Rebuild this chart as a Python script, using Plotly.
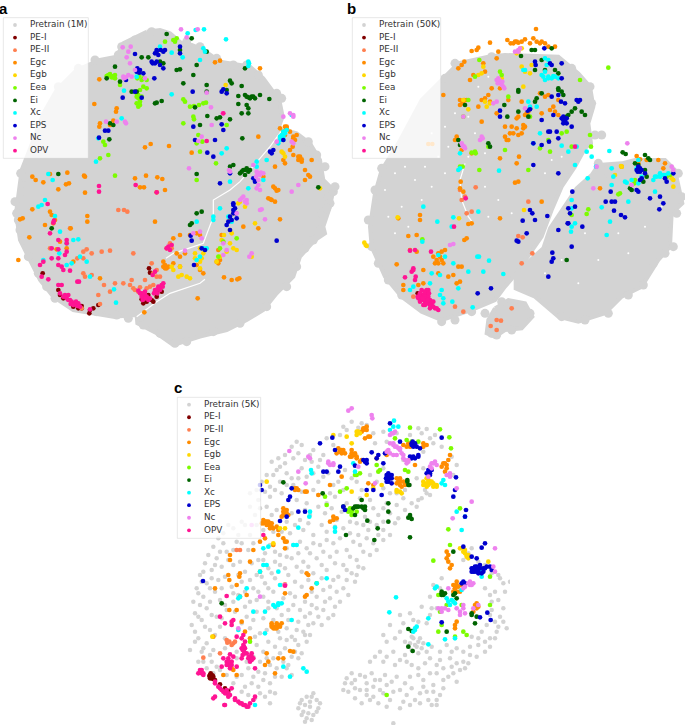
import plotly.graph_objects as go

W, H = 685, 727
NAMES = ["PE-I", "PE-II", "Egc", "Egb", "Eea", "Ei", "Xc", "EPS", "Nc", "OPV"]
COLORS = ["#800000", "#FF7F50", "#FF8C00", "#FFD700", "#7CFC00", "#006400", "#00FFFF", "#0000CD", "#EE82EE", "#FF1493"]
GREY = "#D3D3D3"

# ---------- panel a: values ----------
A_OUTLINE = [(440,95),(480,90),(510,100),(545,130),(575,135),(600,145),(625,160),(660,185),(720,195),(750,200),(790,235),(815,270),(838,300),(848,350),(835,385),(890,400),(930,430),(960,480),(970,540),(1000,570),(990,620),(970,680),(975,700),(945,720),(900,770),(880,830),(830,880),(790,930),(740,960),(680,990),(600,1010),(520,1035),(470,1000),(412,970),(410,945),(340,950),(280,940),(220,930),(160,890),(120,840),(90,780),(60,720),(48,640),(60,540),(65,510),(100,420),(130,340),(170,270),(230,210),(300,180),(350,170),(370,130)]
A_CRACK_1 = [(885,345),(850,385),(810,440),(775,480),(745,515),(720,545),(690,570),(640,600),(640,650),(622,695),(610,730),(565,745),(520,760),(498,775)]
A_CRACK_2 = [(410,950),(470,905),(510,880),(600,850),(615,838)]
A_EDGE = [(985,590),(1000,575),(990,610),(960,690),(955,700),(965,640),(940,720),(915,745),(890,800),(860,860),(800,920),(720,970),(640,995),(560,1025),(525,1030),(480,1000),(430,975),(385,955),(350,945),(325,930),(290,935),(165,895),(140,860),(115,820),(85,770),(70,720),(60,690),(55,660),(50,640),(45,605),(65,575),(75,530),(62,520),(845,295),(830,280),(775,225),(740,195),(700,195),(650,175),(600,140),(560,125),(455,95),(405,120),(365,140),(355,165),(285,180),(235,205),(175,260),(925,425),(950,465),(975,500),(1005,560),(980,625)]
A_PE1 = [(175,870),(180,885),(190,895),(220,920),(235,925),(245,918),(270,930),(268,940),(280,925),(295,915),(447,805),(450,818),(430,895),(440,905),(455,900),(430,910),(445,885),(470,890),(485,875),(128,820),(470,875),(245,925),(425,898),(460,905)]
A_PE2 = [(355,630),(372,630),(382,635),(260,748),(232,775),(250,775),(275,760),(305,755),(330,752),(400,760),(250,820),(255,830),(275,825),(312,855),(295,885),(330,875),(345,850),(370,850),(395,840),(390,855),(405,870),(415,875),(400,865),(455,790),(460,820),(470,830),(480,830),(435,840),(250,755),(245,925),(300,912),(460,855),(210,685),(150,745),(510,730),(500,745),(515,745),(420,862),(440,865),(450,860),(470,810)]
A_EGC = [(298,238),(350,325),(348,335),(283,312),(300,370),(298,380),(340,362),(330,375),(435,442),(452,432),(507,438),(575,458),(660,182),(645,187),(780,205),(775,410),(97,530),(107,540),(130,547),(150,522),(202,518),(252,527),(255,530),(175,568),(198,553),(207,550),(255,578),(405,535),(438,527),(472,532),(487,537),(420,562),(432,562),(470,577),(495,570),(97,628),(60,658),(68,655),(150,635),(155,645),(165,660),(160,670),(262,648),(262,665),(88,712),(135,675),(212,685),(55,780),(180,725),(465,665),(495,795),(490,800),(505,800),(520,790),(540,800),(860,380),(850,395),(880,410),(885,420),(870,450),(880,465),(900,470),(905,485),(850,480),(855,490),(935,480),(915,510),(925,525),(915,540),(825,500),(790,530),(825,565),(835,570),(805,595),(815,600),(825,605),(840,658),(775,685),(730,680),(672,832),(695,840),(712,838),(718,835),(593,895),(433,937),(590,700),(600,705),(570,705),(540,705),(520,715),(590,795),(610,820),(600,810),(540,770),(530,760),(555,760),(495,805),(490,785),(650,785),(660,780),(655,790),(870,395),(855,405),(878,440),(895,480),(930,530),(890,405),(665,705),(655,750),(170,748),(200,745),(220,785),(300,835),(820,560),(830,572),(812,598),(855,380),(860,385),(880,415),(895,470),(905,478),(500,805),(840,385)]
A_EGB = [(720,605),(735,620),(700,640),(690,660),(695,700),(672,705),(665,720),(690,730),(700,745),(710,750),(680,755),(660,770),(650,785),(765,670),(755,770),(850,460),(855,470),(845,455),(690,690),(600,745),(610,760),(585,760),(585,775),(600,785),(540,800),(545,825),(535,830),(560,830),(570,835),(515,800),(520,810),(960,565),(677,255),(600,805),(605,775),(715,610)]
A_EEA = [(320,228),(330,222),(340,232),(345,225),(335,228),(405,275),(415,295),(425,290),(410,310),(420,315),(430,260),(440,265),(412,235),(440,240),(520,120),(530,115),(525,125),(495,125),(550,298),(555,305),(570,320),(582,318),(597,315),(610,310),(618,308),(580,350),(582,358),(550,370),(595,405),(607,425),(590,430),(648,490),(590,540),(345,527),(310,425),(315,435),(325,465),(300,475),(360,255),(680,375),(660,745),(655,770),(670,725),(710,715),(600,455),(418,228),(430,235),(425,240),(410,280),(420,270),(325,225),(335,232),(345,235),(415,285),(410,290),(420,305),(415,320)]
A_EI = [(500,102),(575,115),(540,150),(620,155),(590,195),(425,172),(445,172),(480,185),(490,190),(530,210),(540,208),(580,225),(550,250),(620,255),(620,275),(690,242),(695,250),(680,270),(735,205),(725,258),(715,288),(735,285),(745,292),(755,290),(765,295),(780,285),(808,297),(715,312),(740,315),(745,325),(725,340),(745,340),(650,355),(660,352),(690,358),(727,415),(622,348),(585,322),(485,303),(470,308),(465,310),(320,235),(360,245),(345,200),(395,275),(410,275),(330,370),(340,375),(328,418),(175,522),(155,685),(690,500),(700,495),(720,520),(730,510),(740,505),(750,510),(735,525),(590,522),(570,675),(575,670),(605,635),(590,640),(955,562),(600,375),(740,290),(750,295),(760,290),(735,510),(745,515),(725,515)]
A_XC = [(678,118),(610,145),(615,155),(563,100),(587,90),(612,88),(747,190),(745,198),(600,180),(515,158),(548,172),(480,140),(410,230),(372,272),(515,283),(365,355),(295,415),(288,485),(145,522),(158,540),(125,615),(115,620),(135,600),(165,648),(180,695),(220,720),(235,718),(200,795),(215,790),(240,770),(260,785),(270,830),(200,730),(178,760),(130,780),(342,868),(348,908),(590,665),(640,650),(640,660),(850,395),(840,410),(850,420),(860,390),(835,430),(875,345),(770,485),(770,500),(800,480),(790,540),(745,565),(690,545),(680,445),(665,460),(600,770),(590,780),(620,745),(610,745),(695,665),(685,650),(660,625),(745,185),(845,405),(855,400),(840,420),(850,410)]
A_EPS = [(470,150),(475,165),(465,160),(490,155),(455,185),(465,190),(480,195),(490,205),(540,140),(540,160),(405,162),(420,210),(410,215),(430,220),(378,240),(405,275),(425,293),(368,293),(315,392),(325,392),(297,413),(463,235),(578,275),(580,380),(665,275),(670,268),(680,280),(665,373),(670,390),(645,420),(622,458),(640,470),(585,420),(820,450),(815,460),(850,420),(660,550),(690,520),(700,610),(705,625),(700,640),(710,655),(690,650),(685,665),(680,675),(690,690),(830,722),(605,745),(615,750),(582,795),(572,707),(575,722),(760,535),(765,545),(810,455),(458,190),(470,185),(482,150),(495,150),(470,155),(412,205),(418,218),(700,630),(695,660),(700,615),(708,640)]
A_NC = [(543,88),(593,88),(560,112),(368,142),(385,155),(380,172),(392,140),(390,190),(370,230),(385,225),(395,230),(405,210),(435,235),(620,278),(633,322),(668,340),(635,375),(350,365),(375,365),(378,370),(318,365),(850,350),(880,345),(870,340),(880,430),(875,425),(830,425),(760,495),(770,515),(780,525),(790,520),(775,540),(770,565),(780,570),(875,575),(895,555),(780,630),(785,628),(795,658),(730,590),(740,600),(740,610),(720,600),(710,640),(580,700),(600,695),(605,715),(670,730),(680,750),(670,765),(748,770),(755,760),(567,505),(690,515),(687,510),(605,410),(595,423),(555,752),(372,235),(378,232),(773,520),(783,518),(768,530),(775,555),(880,350),(735,605),(725,595)]
A_OPV = [(180,880),(190,890),(205,885),(215,905),(225,910),(235,910),(240,920),(210,900),(220,915),(270,928),(425,880),(435,885),(430,890),(440,890),(445,900),(420,880),(465,870),(475,860),(485,855),(480,870),(490,850),(465,875),(458,825),(465,815),(175,855),(185,855),(232,845),(237,845),(145,838),(125,830),(120,795),(130,785),(175,795),(185,800),(190,810),(155,775),(175,775),(195,765),(200,755),(175,720),(200,720),(200,730),(150,700),(162,662),(160,668),(143,612),(297,558),(297,575),(407,555),(470,577),(620,423),(505,740),(510,750),(500,745),(515,735),(670,340),(155,745),(175,748),(210,812),(435,875),(428,900),(200,895),(212,912),(228,905),(232,918),(415,872),(425,890),(432,880),(437,895),(450,895),(472,868),(480,862),(488,860),(462,880),(472,880),(205,900),(195,885)]

# ---------- panel b ----------
B_OUTLINE_MAIN = [(430,170),(480,165),(640,170),(700,220),(735,260),(745,320),(730,370),(738,430),(720,445),(690,500),(650,560),(620,630),(590,710),(550,765),(510,825),(480,860),(450,900),(380,930),(290,960),(230,935),(170,890),(120,830),(80,740),(75,680),(90,580),(110,510),(160,430),(230,300),(290,240),(340,190)]
B_OUTLINE_RIGHT = [(760,495),(830,490),(870,480),(960,480),(990,510),(1010,590),(1012,610),(980,640),(975,740),(940,780),(890,860),(830,890),(780,940),(700,965),(640,950),(570,890),(512,865),(512,835),(545,790),(595,745),(615,685),(655,625),(695,565),(740,525)]
B_OUTLINE_LOW = [(450,925),(490,900),(540,910),(562,950),(530,985),(480,990),(450,1010),(425,1000),(430,960)]
B_CRACK = [(360,490),(345,540),(350,600),(370,650),(385,670)]
B_GAPS = [(120,570),(150,520),(180,500),(210,540),(240,500),(280,470),(310,440),(300,520),(260,560),(230,600),(170,620),(130,650),(150,700),(190,680),(420,560),(460,600),(500,640),(430,650),(560,500),(600,520),(620,480),(650,470),(420,460),(370,470),(300,380),(260,400),(330,340),(400,260),(430,230),(370,350),(390,400),(820,700),(760,780),(650,780),(900,680),(700,850),(850,760),(600,820),(720,700),(950,620)]
B_EDGE = [(70,660),(90,570),(110,505),(80,740),(100,790),(130,840),(170,885),(290,965),(330,960),(380,935),(420,940),(440,1000),(455,1005),(500,990),(555,940),(985,740),(960,760),(925,790),(895,855),(850,885),(790,940),(720,960),(650,950),(995,640),(1010,590),(1000,520),(735,260),(740,310),(750,405),(770,405),(760,490),(790,520),(330,190),(300,235),(440,170),(680,205),(450,1000),(470,905)]
B_PE1 = [(218,880),(228,885)]
B_PE2 = [(550,605),(533,712),(520,708),(530,790),(562,760),(500,925),(455,960),(468,962),(437,978),(455,990),(355,935),(330,920),(360,590),(350,600),(380,635),(392,562),(205,890),(345,570),(365,640)]
B_EGC = [(573,87),(487,120),(497,130),(510,125),(520,128),(530,125),(540,118),(565,115),(575,125),(585,130),(600,130),(610,140),(630,140),(435,128),(400,143),(395,150),(380,153),(460,155),(455,175),(358,185),(350,195),(340,205),(415,190),(420,215),(385,225),(375,240),(295,285),(345,300),(355,310),(365,300),(345,315),(430,285),(420,295),(435,305),(410,300),(465,265),(440,265),(490,300),(520,350),(515,355),(600,290),(615,330),(630,335),(640,345),(625,320),(590,340),(550,335),(480,410),(485,420),(495,400),(515,385),(530,400),(535,385),(540,380),(520,405),(410,365),(330,420),(335,410),(350,450),(380,460),(465,475),(522,470),(515,490),(510,548),(520,545),(347,545),(345,565),(355,575),(380,670),(370,672),(365,715),(358,720),(465,655),(590,605),(225,645),(225,660),(190,708),(215,705),(160,655),(195,750),(215,755),(155,793),(300,750),(290,755),(280,760),(265,770),(270,790),(295,790),(290,780),(350,800),(340,800),(325,825),(335,850),(310,830),(280,820),(235,810),(220,855),(175,855),(175,870),(235,850),(345,845),(540,345),(545,340),(530,305),(250,432),(262,432),(400,320),(610,285),(830,500),(875,468),(885,478),(905,480),(960,490),(940,480),(955,505),(765,565),(880,490),(505,130),(555,130),(480,380),(500,380),(490,420),(505,400),(455,340),(535,375),(640,300),(585,280),(352,305),(358,300),(285,770),(275,780),(280,790),(515,125),(590,125)]
B_EGB = [(410,220),(400,225),(415,200),(420,305),(435,310),(425,320),(370,328),(355,300),(465,240),(520,155),(515,160),(530,145),(540,215),(535,260),(555,220),(560,195),(158,652),(62,735),(58,728),(65,738),(537,630),(342,655),(828,498),(830,500),(985,560),(980,535),(985,540),(860,555),(470,235),(530,200),(810,525)]
B_EEA = [(790,203),(403,180),(465,215),(470,225),(390,230),(370,300),(355,350),(403,510),(390,455),(380,458),(392,460),(345,500),(353,500),(550,510),(735,405),(738,440),(615,455),(585,445),(610,420),(650,400),(665,395),(705,240),(680,440),(730,628),(725,642),(820,583),(825,580),(870,540),(868,550),(965,530),(975,525),(232,718),(680,645),(480,450),(555,350),(430,440),(490,290)]
B_EI = [(560,150),(570,150),(620,145),(528,168),(590,180),(570,210),(640,220),(640,270),(650,275),(655,285),(520,270),(520,275),(575,295),(570,305),(590,280),(520,335),(478,315),(487,350),(555,325),(550,350),(680,335),(690,325),(670,345),(720,345),(710,335),(665,350),(430,430),(435,440),(340,420),(345,435),(360,315),(665,780),(833,457),(842,462),(900,465),(910,475),(880,495),(900,510),(905,530),(895,545),(870,490),(915,480),(855,565),(860,570),(640,265),(630,210),(600,210)]
B_XC = [(235,620),(277,665),(325,652),(320,680),(232,725),(280,765),(300,770),(325,790),(260,820),(285,825),(255,850),(290,870),(285,885),(295,895),(205,860),(195,870),(295,910),(322,905),(340,865),(370,815),(397,770),(402,770),(432,782),(415,815),(475,822),(383,922),(400,635),(462,512),(340,510),(345,505),(345,460),(610,180),(600,175),(605,195),(600,215),(610,230),(620,235),(630,230),(590,225),(600,240),(640,235),(540,210),(535,210),(550,305),(575,320),(555,320),(585,400),(565,430),(650,437),(670,455),(695,440),(725,455),(740,470),(690,495),(728,535),(753,500),(793,453),(800,505),(805,530),(840,545),(845,548),(860,540),(800,555),(880,550),(925,540),(930,530),(945,520),(960,525),(970,520),(930,575),(770,622),(795,665),(785,705),(680,600),(680,625),(680,680),(690,670),(678,695),(850,605),(890,530),(880,480),(875,505),(610,235),(595,230),(625,228),(945,530),(955,525),(935,530)]
B_EPS = [(598,145),(650,190),(570,185),(572,195),(615,190),(620,195),(650,235),(555,328),(548,332),(465,332),(465,350),(620,290),(640,285),(648,305),(660,310),(695,300),(705,300),(700,305),(625,345),(590,360),(655,350),(660,360),(650,355),(665,370),(680,380),(655,370),(610,395),(615,395),(635,395),(640,415),(612,425),(590,435),(565,430),(565,495),(640,520),(682,575),(670,625),(675,640),(690,620),(555,630),(562,640),(570,660),(533,662),(607,648),(545,700),(515,722),(520,725),(668,670),(640,690),(680,740),(622,758),(625,775),(620,785),(610,830),(438,865),(398,880),(712,680),(880,500),(875,510),(885,515),(890,535),(885,540),(900,520),(875,570),(880,575),(915,595),(945,590),(943,628),(955,610),(960,535),(965,545),(985,520),(797,575),(782,605),(800,605),(810,605),(807,632),(828,645),(840,652),(670,670),(880,505),(885,505),(878,515),(890,510),(655,360),(660,365),(665,355)]
B_NC = [(510,155),(520,150),(525,145),(460,235),(465,245),(470,255),(475,260),(455,305),(445,310),(455,240),(413,415),(405,420),(410,410),(350,430),(355,440),(360,445),(355,350),(847,430),(745,565),(755,500),(315,735),(325,732),(980,500),(985,510),(540,325),(860,555),(462,240),(468,250),(472,245),(458,250),(478,265),(352,435),(358,440),(520,155)]
B_OPV = [(220,895),(230,900),(240,905),(245,895),(235,885),(250,870),(245,880),(260,915),(270,925),(255,925),(280,930),(240,915),(265,905),(225,880),(230,870),(245,870),(225,905),(235,915),(250,910),(255,900),(205,810),(200,815),(210,840),(212,830),(180,832),(195,752),(210,750),(327,680),(362,595),(258,755),(690,440),(205,805),(235,900),(245,910),(240,890),(250,890),(255,915),(265,920),(275,925),(225,890),(238,875),(252,880),(232,895),(248,900),(260,905),(218,890)]

# ---------- panel c ----------
C_GREY = [
(545,140),(520,155),(565,158),(590,150),(745,160),(770,162),(795,180),
(380,200),(395,210),(510,180),(470,190),(610,175),(640,170),(680,175),(720,180),(790,205),(815,215),
(365,215),(325,250),(345,265),(370,250),(385,235),(430,225),(460,240),(490,210),(615,205),(650,200),(760,230),(845,245),(860,270),
(305,260),(330,275),(310,300),(350,295),(395,280),(425,260),(445,275),(475,295),(525,285),(590,260),(640,280),(700,255),(760,280),(850,300),
(275,320),(300,335),(330,320),(370,330),(410,305),(445,320),(490,330),(520,345),(560,320),(600,300),(640,340),(680,355),(720,330),(765,345),(790,330),
(240,355),(265,375),(300,365),(335,355),(380,375),(410,385),(445,360),(470,385),(495,365),(570,370),(600,375),(650,385),(700,370),(745,375),(770,355),
(290,395),(255,420),(215,440),(320,405),(350,440),(390,435),(420,420),(465,415),(500,435),(540,440),(585,425),(625,420),(660,415),(705,405),(740,395),
(160,475),(190,460),(130,515),(160,505),(240,480),(280,465),(310,470),(360,475),(400,465),(430,480),(470,470),(520,460),(565,480),(595,465),(640,465),(675,445),
(105,565),(140,550),(170,530),(200,500),(235,525),(265,555),(300,510),(330,540),(370,510),(410,520),(450,510),(490,505),(530,525),(570,510),(610,505),(640,495),
(90,600),(125,585),(155,575),(190,570),(225,590),(260,600),(295,580),(330,570),(365,550),(400,560),(440,550),(480,545),(520,570),(560,555),(600,540),
(80,640),(110,625),(145,615),(185,635),(215,620),(250,640),(285,625),(315,610),(355,600),(395,590),(430,595),(470,585),(505,605),(545,595),(580,580),
(70,680),(100,665),(135,650),(165,690),(205,660),(240,680),(280,665),(310,650),(360,655),(395,635),(440,625),(480,635),(520,640),(555,620),
(75,715),(110,700),(140,725),(170,705),(230,725),(260,710),(295,700),(335,720),(370,690),(405,680),(440,665),(480,670),(510,680),
(65,750),(95,735),(120,765),(150,755),(240,760),(270,775),(310,735),(350,760),(385,740),(420,715),(460,705),(490,720),
(60,825),(85,790),(110,805),(130,825),(260,810),(295,800),(330,790),(365,785),(400,770),(430,745),(455,750),
(95,830),(85,860),(125,860),(150,885),(200,850),(235,880),(270,860),(310,850),(345,820),(385,810),(410,800),
(110,880),(215,900),(250,905),(285,895),(320,880),(355,870),(385,850),(395,835),
(190,925),(225,935),(265,935),(300,925),(335,905),(365,900),
(215,950),(255,970),(285,965),(315,955),(300,985),
(430,955),(410,965),(395,975),(440,975),(385,1000),(400,1010),(420,995),(430,1020),(410,1030),(440,1010),(415,1015),(395,1020),(450,985),(670,1045),
(880,555),(905,520),(945,570),(985,600),(1000,625),(975,650),(945,640),
(815,610),(790,630),(965,680),(1000,740),(985,755),(960,720),(1000,700),
(720,715),(755,695),(780,720),(745,740),(700,745),(960,790),(935,770),(905,785),
(660,750),(690,770),(725,785),(745,800),(735,810),(760,805),(750,790),(720,805),(650,800),(670,830),(705,840),(785,815),(830,810),(860,820),(900,815),(945,830),(925,810),(975,790),(960,815),
(630,830),(600,860),(640,860),(675,870),(710,860),(745,880),(780,850),(800,870),(840,850),(880,860),(900,840),(870,885),
(545,895),(525,925),(570,900),(605,895),(645,900),(680,905),(720,905),(760,915),(800,895),(835,905),(860,920),(820,940),
(535,950),(570,945),(610,935),(650,930),(690,945),(725,940),(770,950),(800,975),(785,990),(810,960),
(555,970),(600,975),(625,985),(660,975),(700,980),(735,975),(640,955),(590,960),(520,945),(545,925),(590,925),(615,915),
(530,165),(575,145),(755,175),(780,190),(420,240),(405,255),(450,255),(345,240),(320,285),(290,300),(365,310),(385,310),(430,295),(460,305),(505,320),(545,310),(575,345),(620,320),(660,355),(705,345),(740,310),(780,360),
(260,345),(285,350),(315,345),(350,330),(395,350),(430,345),(480,355),(530,385),(555,395),(610,400),(640,400),(680,390),(725,385),(755,370),
(240,395),(270,400),(305,420),(365,415),(405,405),(445,395),(485,400),(515,410),(560,445),(600,440),(640,440),(685,430),
(175,450),(205,480),(145,490),(225,450),(260,450),(335,470),(375,450),(415,445),(455,450),(495,455),(540,475),(580,450),(620,450),(660,480),
(115,540),(150,530),(190,525),(215,505),(250,505),(285,535),(315,530),(350,520),(390,500),(430,505),(470,495),(510,490),(550,500),(590,490),(625,480),
(100,590),(135,570),(175,555),(210,560),(245,565),(280,555),(315,560),(350,545),(385,535),(420,535),(460,530),(500,530),(540,545),(580,530),(620,525),
(95,620),(125,610),(165,605),(205,600),(240,615),(275,605),(305,595),(345,580),(380,575),(415,575),(455,570),(495,565),(530,585),(565,575),
(85,655),(120,640),(155,640),(190,655),(225,650),(265,650),(295,640),(335,630),(375,620),(415,615),(455,610),(490,615),(530,615),(560,600),
(90,690),(120,680),(150,675),(190,680),(225,695),(260,675),(295,680),(340,670),(375,665),(425,650),(460,645),(500,650),(535,660),
(85,725),(125,720),(155,730),(195,710),(215,745),(250,735),(280,730),(320,700),(355,705),(390,705),(425,690),(465,680),(495,695),
(75,770),(105,755),(135,780),(165,790),(255,785),(290,765),(325,770),(355,735),(405,725),(440,700),(475,730),
(75,800),(100,820),(120,840),(165,820),(280,830),(315,815),(350,795),(380,765),(415,750),(445,725),(375,795),
(100,860),(140,875),(200,830),(250,845),(290,850),(330,835),(365,845),(405,780),(420,780),
(130,895),(230,860),(265,890),(300,870),(340,860),(375,830),(200,905),(170,900),
(245,925),(280,915),(315,905),(350,880),(235,960),(270,955),(300,950),
(420,980),(405,990),(425,965),(445,1000),(390,985),(405,1040),(425,1035),
(895,535),(925,560),(965,595),(990,610),(1005,650),(985,675),(960,660),(1020,620),
(810,640),(780,665),(965,705),(990,725),(1010,760),(950,750),(975,740),
(730,735),(770,745),(800,700),(785,700),(690,720),(925,790),(945,800),(980,770),
(640,780),(675,790),(705,800),(730,790),(740,815),(755,820),(725,825),(745,835),(770,830),(810,830),(845,830),(880,830),(920,845),
(615,845),(650,845),(690,855),(725,870),(765,865),(810,855),(860,865),(895,865),(885,880),(845,875),(820,880),
(530,910),(555,915),(585,905),(630,915),(665,920),(705,925),(745,900),(780,895),(820,915),(850,895),(790,930),(760,935),
(555,940),(590,945),(630,945),(670,950),(710,960),(750,955),(790,950),(800,990),(775,975),(750,985),
(575,985),(610,965),(650,995),(690,1000),(720,990)]
C_PE1 = [(120,900),(125,905),(130,912),(135,915),(120,910),(150,928),(165,940),(175,948),(122,895),(128,902),(125,900),(130,905),(118,903),(125,910)]
C_PE2 = [(170,795),(178,800),(190,805),(195,800),(185,810),(150,835),(100,848),(210,525),(200,525),(345,628),(172,803)]
C_EGC = [(585,160),(575,170),(595,185),(585,190),(520,225),(510,230),(500,235),(545,235),(555,240),(560,250),(570,260),(690,320),(680,325),(695,335),(830,270),(825,290),(815,275),(840,240),(835,255),(760,215),(700,210),(720,215),(345,410),(340,420),(335,425),(350,405),(375,345),(380,340),(405,350),(290,440),(295,450),(305,455),(280,445),(310,460),(320,455),(345,500),(350,500),(180,540),(180,555),(210,595),(208,605),(178,615),(175,600),(200,630),(135,640),(210,665),(200,705),(230,660),(340,490),(325,480),(310,510),(345,520),(415,600),(410,595),(425,640),(405,665),(410,660),(345,655),(270,590),(305,750),(315,755),(325,750),(310,760),(335,745),(225,770),(215,740),(240,790),(290,835),(285,870),(325,850),(340,850),(315,895),(370,830),(360,828),(200,900),(190,885),(160,900),(185,880),(490,435),(480,440),(480,330),(445,360),(410,350),(515,305),(860,630),(855,640),(870,650),(915,690),(920,700),(860,740),(855,750),(855,760),(835,540),(835,560),(845,570),(840,580),(830,530),(830,550),(285,490),(270,500),(250,525),(240,560),(178,705),(130,785),(595,325),(620,250),(735,270),(650,240),(610,330),(590,165),(580,165),(550,240),(545,245),(560,245),(510,225),(515,235),(285,440),(290,450),(300,445),(300,460),(315,760),(305,755),(320,760),(345,415),(340,410),(855,640),(860,650),(865,635),(685,320),(690,330),
(505,220),(515,225),(525,235),(545,225),(555,235),(540,245),(575,255),(580,160),(590,155),(600,185),(680,310),(700,320),(690,310),(705,330),(820,265),(830,280),(825,265),(835,300),(760,205),(770,210),(715,205),(710,215),(340,400),(350,415),(355,420),(280,435),(275,445),(295,440),(305,445),(325,465),(850,630),(860,620),(855,655),(850,650),(875,630),(920,685),(925,695),(910,710),(305,745),(320,745),(330,755),(375,340),(385,345),(490,425),(500,430),(295,860)]
C_EGB = [(565,170),(560,180),(530,185),(490,180),(545,205),(780,320),(770,325),(790,335),(760,320),(880,530),(890,540),(895,550),(870,520),(935,580),(955,560),(330,460),(345,460),(690,350),(680,345),(635,330),(610,340),(590,360),(545,350),(127,785),(290,320),(310,505),(770,335),(800,335),(885,535),(890,545),(780,325),(775,330),(770,310),(775,315),(785,320),(760,330),(790,325),(800,330),(880,520),(885,525),(895,540),(560,170),(570,175),(680,350),(695,355)]
C_EEA = [(720,158),(810,163),(838,187),(843,220),(675,190),(725,200),(620,270),(625,290),(715,290),(560,300),(530,340),(510,350),(465,365),(470,390),(540,400),(560,410),(545,420),(530,405),(835,463),(870,400),(790,557),(840,510),(960,690),(650,960),(805,660),(810,710),(805,770),(890,780),(880,770),(960,605),(875,690),(830,690),(240,800),(440,625),(815,750),(855,785),(535,410),(545,410),(555,300),(570,295),(630,285),(705,285),(710,195),(735,205),(745,200)]
C_EI = [(340,322),(458,355),(575,375),(550,400),(560,395),(580,400),(520,395),(585,405),(555,420),(592,437),(655,385),(655,410),(655,440),(720,425),(725,432),(715,428),(613,495),(720,487),(528,480),(623,460),(712,320),(715,330),(850,530),(815,650),(825,655),(850,660),(860,670),(905,720),(920,725),(915,745),(715,762),(725,768),(715,815),(728,828),(830,770),(815,660),(155,685),(555,395),(565,395),(575,395),(585,395),(712,315),(718,330),(720,420),(815,655),(820,660),(855,655),(905,715)]
C_XC = [(672,137),(660,165),(685,155),(670,155),(423,285),(425,295),(555,290),(370,510),(380,510),(420,410),(418,425),(385,458),(495,458),(495,470),(280,520),(295,515),(270,590),(280,570),(290,570),(325,590),(230,640),(330,630),(315,695),(325,690),(335,685),(250,710),(285,710),(365,735),(205,670),(210,665),(205,765),(285,775),(340,875),(400,880),(410,890),(360,905),(255,990),(678,667),(658,712),(775,730),(735,760),(730,770),(740,755),(800,635),(795,640),(830,670),(840,690),(850,680),(875,645),(930,590),(935,605),(775,808),(825,793),(855,790),(470,610),(440,625),(550,265),(815,325),(820,315),(825,330),(875,465),(860,410),(885,425),(835,680),(845,675),(855,685),(325,685),(735,765),(310,690)]
C_EPS = [(660,145),(487,188),(450,205),(495,225),(605,232),(625,240),(620,250),(590,265),(580,255),(585,260),(460,290),(470,290),(510,275),(505,290),(555,272),(650,300),(660,310),(655,320),(665,300),(650,320),(665,325),(735,210),(725,205),(730,215),(720,245),(745,245),(735,250),(750,220),(690,200),(815,188),(780,300),(770,295),(785,285),(858,307),(640,265),(645,235),(610,345),(635,360),(590,345),(520,395),(525,405),(330,438),(360,365),(355,375),(365,340),(270,330),(275,345),(405,410),(385,410),(99,618),(888,405),(885,425),(855,345),(850,365),(880,515),(945,505),(935,518),(920,550),(905,545),(910,580),(920,585),(930,580),(940,590),(950,575),(965,585),(905,590),(935,595),(885,625),(875,625),(880,620),(815,742),(952,713),(962,735),(930,727),(350,425),(910,585),(915,590),(925,590),(915,578),(945,580),(905,580),(725,210),(655,310),(660,300),(730,245),(735,205),(728,200),(740,215),(745,240),(725,250),(655,295),(648,310),(665,310),(920,575),(930,570),(940,580),(960,575),(910,590),(915,575),(925,595),(780,295),(775,285),(590,255)]
C_NC = [(545,100),(535,107),(605,120),(607,130),(358,228),(415,245),(420,250),(385,290),(407,325),(475,265),(480,270),(490,265),(665,175),(675,170),(670,205),(680,215),(690,225),(655,225),(660,235),(700,250),(715,260),(680,240),(795,260),(780,275),(775,305),(785,265),(840,295),(860,340),(905,380),(848,430),(975,520),(245,450),(270,665),(615,325),(970,575),(975,590),(895,625),(910,625),(900,630),(880,640),(835,640),(805,700),(815,710),(835,705),(870,710),(885,715),(860,700),(880,690),(925,690),(910,700),(345,630),(205,760),(565,275),(670,210),(675,215),(685,220),(695,235),(705,255),(710,265),(660,205),(690,220),(700,240),(715,255),(650,230),(670,240),(785,280),(790,265),(800,270),(830,300),(840,305),(885,635),(905,630),(900,620),(880,700),(870,720),(815,700),(825,700),(475,260),(490,270),(670,175),(660,180)]
C_OPV = [(90,885),(95,895),(100,900),(85,895),(135,920),(145,935),(155,945),(165,955),(175,965),(170,945),(185,940),(135,965),(130,970),(165,990),(195,970),(205,980),(220,990),(235,995),(240,985),(250,975),(255,965),(215,985),(170,860),(175,870),(180,880),(185,860),(175,850),(190,845),(180,838),(220,810),(225,820),(222,830),(218,840),(225,800),(240,845),(250,850),(235,850),(245,835),(215,850),(185,740),(190,735),(185,750),(165,745),(150,725),(170,663),(200,785),(215,790),(220,780),(255,880),(160,850),(155,875),(200,875),(163,990),(345,632),(280,480),(90,890),(95,885),(100,895),(135,925),(150,940),(160,950),(170,955),(175,955),(180,960),(195,975),(210,985),(225,990),(230,995),(175,860),(180,870),(185,870),(170,870),(222,815),(218,825),(225,835),(237,845),(245,845),(240,860),(230,835),(215,820),(245,855)]

PANELS = {
    "a": dict(origin=(0, 0), grey="Pretrain (1M)", polys=[A_OUTLINE], cracks=[A_CRACK_1, A_CRACK_2], edge=A_EDGE, dots=[], gaps=[],
              series=[A_PE1, A_PE2, A_EGC, A_EGB, A_EEA, A_EI, A_XC, A_EPS, A_NC, A_OPV],
              box=(10, 53, 265, 475), key_x=45, text_x=90, label=(10, 24)),
    "b": dict(origin=(345, 0), grey="Pretrain (50K)", polys=[B_OUTLINE_MAIN, B_OUTLINE_RIGHT, B_OUTLINE_LOW], cracks=[B_CRACK], edge=B_EDGE, dots=[], gaps=B_GAPS,
              series=[B_PE1, B_PE2, B_EGC, B_EGB, B_EEA, B_EI, B_XC, B_EPS, B_NC, B_OPV],
              box=(22, 53, 287, 475), key_x=57, text_x=102, label=(20, 24)),
    "c": dict(origin=(170, 375), grey="Pretrain (5K)", polys=[], cracks=[], edge=[], dots=C_GREY, gaps=[],
              series=[C_PE1, C_PE2, C_EGC, C_EGB, C_EEA, C_EI, C_XC, C_EPS, C_NC, C_OPV],
              box=(22, 67, 272, 490), key_x=57, text_x=102, label=(23, 37)),
}

fig = go.Figure()
layout = {}
for i, (tag, p) in enumerate(PANELS.items()):
    sfx = "" if i == 0 else str(i + 1)
    xa, ya = "x" + sfx, "y" + sfx
    ox, oy = p["origin"]
    layout["xaxis" + sfx] = dict(domain=[ox / W, (ox + 340) / W], range=[0, 1020], visible=False, anchor=ya, fixedrange=True)
    layout["yaxis" + sfx] = dict(domain=[1 - (oy + 350) / H, 1 - oy / H], range=[1050, 0], visible=False, anchor=xa, fixedrange=True)

    for poly in p["polys"]:
        pts = poly + poly[:1]
        fig.add_trace(go.Scatter(x=[q[0] for q in pts], y=[q[1] for q in pts], mode="lines", fill="toself",
                                 fillcolor=GREY, line=dict(color=GREY, width=4), xaxis=xa, yaxis=ya, hoverinfo="skip"))
    if p["edge"]:
        fig.add_trace(go.Scatter(x=[q[0] for q in p["edge"]], y=[q[1] for q in p["edge"]], mode="markers",
                                 marker=dict(color=GREY, size=9), xaxis=xa, yaxis=ya, hoverinfo="skip"))
    for crack in p["cracks"]:
        fig.add_trace(go.Scatter(x=[q[0] for q in crack], y=[q[1] for q in crack], mode="lines",
                                 line=dict(color="white", width=1.2), xaxis=xa, yaxis=ya, hoverinfo="skip"))
    if p["gaps"]:
        fig.add_trace(go.Scatter(x=[q[0] for q in p["gaps"]], y=[q[1] for q in p["gaps"]], mode="markers",
                                 marker=dict(color="white", size=2), xaxis=xa, yaxis=ya, hoverinfo="skip"))
    if p["dots"]:
        fig.add_trace(go.Scatter(x=[q[0] for q in p["dots"]], y=[q[1] for q in p["dots"]], mode="markers", name=p["grey"],
                                 marker=dict(color=GREY, size=4.5), xaxis=xa, yaxis=ya))
    for name, color, pts in zip(NAMES, COLORS, p["series"]):
        fig.add_trace(go.Scatter(x=[q[0] for q in pts], y=[q[1] for q in pts], mode="markers", name=name,
                                 marker=dict(color=color, size=4.7), xaxis=xa, yaxis=ya))

    # legend block
    x0, y0, x1, y1 = p["box"]
    fig.add_trace(go.Scatter(x=[x0, x1, x1, x0, x0], y=[y0, y0, y1, y1, y0], mode="lines", fill="toself",
                             fillcolor="rgba(255,255,255,0.8)", line=dict(color="rgba(204,204,204,0.45)", width=1),
                             xaxis=xa, yaxis=ya, hoverinfo="skip"))
    labels = [p["grey"]] + NAMES
    rows = [y0 + 22 + k * 37.7 for k in range(len(labels))]
    fig.add_trace(go.Scatter(x=[p["key_x"]] * len(labels), y=rows, mode="markers",
                             marker=dict(color=[GREY] + COLORS, size=3.8), xaxis=xa, yaxis=ya, hoverinfo="skip"))
    fig.add_trace(go.Scatter(x=[p["text_x"]] * len(labels), y=rows, mode="text", text=labels, textposition="middle right",
                             textfont=dict(family="DejaVu Sans", size=8.8, color="#333333"), xaxis=xa, yaxis=ya, hoverinfo="skip"))

annotations = []
for i, (tag, p) in enumerate(PANELS.items()):
    sfx = "" if i == 0 else str(i + 1)
    annotations.append(dict(x=p["label"][0], y=p["label"][1], xref="x" + sfx, yref="y" + sfx, text=f"<b>{tag}</b>", showarrow=False,
                            font=dict(family="Liberation Sans", size=15, color="black")))

fig.update_layout(width=W, height=H, margin=dict(l=0, r=0, t=0, b=0, autoexpand=False), showlegend=False,
                  paper_bgcolor="white", plot_bgcolor="white", annotations=annotations, **layout)
fig.write_html("out.html", post_script="document.body.style.margin='0';", config={"displayModeBar": False})
